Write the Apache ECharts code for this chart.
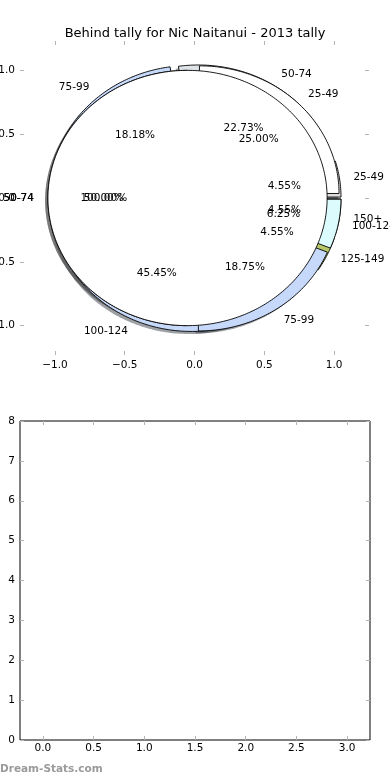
<!DOCTYPE html>
<html><head><meta charset="utf-8">
<script src="https://cdn.jsdelivr.net/npm/echarts@6/dist/echarts.min.js"></script>
<style>html,body{margin:0;padding:0;background:#fff}#c{width:390px;height:780px}</style>
</head><body><div id="c"></div>
<script>
// ---- data ----
const chartTitle = 'Behind tally for Nic Naitanui - 2013 tally';
const pieALabels = ['25-49', '50-74', '75-99', '100-124', '125-149', '150+'];
const pieAValues = [1, 5, 4, 10, 1, 1];
const pieBLabels = ['25-49', '50-74', '75-99', '100-124'];
const pieBValues = [4, 8, 3, 1];
const pieCLabels = ['50-74'];
const pieCValues = [1];
const pieTicks = [-1, -0.5, 0, 0.5, 1];
const barCategories = [0, 1, 2, 3];
const barValues = [0, 0, 0, 0];
const barXTicks = [0, 0.5, 1, 1.5, 2, 2.5, 3];
const barYTicks = [0, 1, 2, 3, 4, 5, 6, 7, 8];
const watermark = 'Dream-Stats.com';

// ---- style ----
const pieAColors = ['#dcdcdc', '#dfe3ea', '#c6d9fa', '#c6d9fa', '#b7c86b', '#c6d9fa'];
const pieBColors = ['#ffffff', '#ffffff', '#c6d9fa', '#dcfbfc'];
const pieCColors = ['#ffffff'];
const EXPLODE = 0.05, RADIUS = 1, LABEL_D = 1.1, PCT_D = 0.6;
const FONT = 'DejaVu Sans';

function buildPie(labels, values, colors) {
  const total = values.reduce((a, b) => a + b, 0);
  let cum = 0;
  return values.map((v, i) => {
    const t1 = 360 * cum / total;
    cum += v;
    const t2 = 360 * cum / total;
    const tm = (t1 + t2) / 2 * Math.PI / 180;
    const ox = EXPLODE * Math.cos(tm), oy = EXPLODE * Math.sin(tm);
    const lx = ox + LABEL_D * RADIUS * Math.cos(tm), ly = oy + LABEL_D * RADIUS * Math.sin(tm);
    return {
      t1, t2, ox, oy, color: colors[i], full: Math.abs(t2 - t1 - 360) < 1e-9,
      label: labels[i], lx, ly, align: lx > 0 ? 'left' : 'right',
      pct: (100 * v / total).toFixed(2) + '%',
      px: ox + PCT_D * RADIUS * Math.cos(tm), py: oy + PCT_D * RADIUS * Math.sin(tm)
    };
  });
}
const wedges = [].concat(
  buildPie(pieALabels, pieAValues, pieAColors),
  buildPie(pieBLabels, pieBValues, pieBColors),
  buildPie(pieCLabels, pieCValues, pieCColors)
);

function wedgePoints(api, w, dx, dy) {
  const pts = [];
  const cx = w.ox + dx, cy = w.oy + dy;
  if (!w.full) pts.push(api.coord([cx, cy]));
  const n = Math.max(2, Math.ceil((w.t2 - w.t1) / 1));
  for (let k = 0; k <= n; k++) {
    const a = (w.t1 + (w.t2 - w.t1) * k / n) * Math.PI / 180;
    pts.push(api.coord([cx + RADIUS * Math.cos(a), cy + RADIUS * Math.sin(a)]));
  }
  return pts;
}
function shadowColor(hex) {
  const r = parseInt(hex.slice(1, 3), 16), g = parseInt(hex.slice(3, 5), 16), b = parseInt(hex.slice(5, 7), 16);
  return 'rgb(' + Math.round(r * 0.3) + ',' + Math.round(g * 0.3) + ',' + Math.round(b * 0.3) + ')';
}
const fmtMinus = v => (v < 0 ? '\u2212' : '') + Math.abs(v).toFixed(1);
const tickStyle = { show: true, inside: true, length: 4, lineStyle: { color: '#b4b4b4', width: 1 } };
const noLine = { show: false, onZero: false };

const chart = echarts.init(document.getElementById('c'), null, { renderer: 'canvas' });
chart.setOption({
  animation: false,
  backgroundColor: '#fff',
  title: { text: chartTitle, left: 'center', top: 22, textStyle: { fontFamily: FONT, fontSize: 13, fontWeight: 'normal', color: '#000' } },
  graphic: [{ type: 'text', left: 0, top: 764, style: { text: watermark, fill: '#9a9a9a', font: 'bold 10.5px "DejaVu Sans"' } }],
  grid: [
    { left: 20, top: 41, width: 349, height: 314, show: false, containLabel: false, outerBoundsMode: 'none' },
    { left: 20, top: 421, width: 350, height: 319, show: true, borderColor: '#000', borderWidth: 1, backgroundColor: 'transparent', containLabel: false, outerBoundsMode: 'none' }
  ],
  xAxis: [
    { gridIndex: 0, type: 'value', min: -1.25, max: 1.25, position: 'bottom', axisLine: noLine, splitLine: { show: false },
      axisTick: Object.assign({ customValues: pieTicks }, tickStyle),
      axisLabel: { customValues: pieTicks, formatter: fmtMinus, margin: 5, color: '#000', fontSize: 10.5, fontFamily: FONT } },
    { gridIndex: 0, type: 'value', min: -1.25, max: 1.25, position: 'top', axisLine: noLine, splitLine: { show: false },
      axisTick: Object.assign({ customValues: pieTicks }, tickStyle), axisLabel: { show: false } },
    { gridIndex: 1, type: 'value', min: -0.225, max: 3.225, position: 'bottom', axisLine: noLine, splitLine: { show: false },
      axisTick: Object.assign({ customValues: barXTicks }, tickStyle),
      axisLabel: { customValues: barXTicks, formatter: v => v.toFixed(1), margin: 3, color: '#000', fontSize: 10.5, fontFamily: FONT } },
    { gridIndex: 1, type: 'value', min: -0.225, max: 3.225, position: 'top', axisLine: noLine, splitLine: { show: false },
      axisTick: Object.assign({ customValues: barXTicks }, tickStyle), axisLabel: { show: false } }
  ],
  yAxis: [
    { gridIndex: 0, type: 'value', min: -1.23, max: 1.23, position: 'left', axisLine: noLine, splitLine: { show: false },
      axisTick: Object.assign({ customValues: pieTicks }, tickStyle),
      axisLabel: { customValues: pieTicks, formatter: fmtMinus, margin: 5, color: '#000', fontSize: 10.5, fontFamily: FONT } },
    { gridIndex: 0, type: 'value', min: -1.23, max: 1.23, position: 'right', axisLine: noLine, splitLine: { show: false },
      axisTick: Object.assign({ customValues: pieTicks }, tickStyle), axisLabel: { show: false } },
    { gridIndex: 1, type: 'value', min: 0, max: 8, position: 'left', axisLine: noLine, splitLine: { show: false },
      axisTick: Object.assign({ customValues: barYTicks }, tickStyle),
      axisLabel: { customValues: barYTicks, margin: 5, color: '#000', fontSize: 10.5, fontFamily: FONT } },
    { gridIndex: 1, type: 'value', min: 0, max: 8, position: 'right', axisLine: noLine, splitLine: { show: false },
      axisTick: Object.assign({ customValues: barYTicks }, tickStyle), axisLabel: { show: false } }
  ],
  series: [
    { type: 'custom', name: 'shadow', xAxisIndex: 0, yAxisIndex: 0, clip: false, z: 1, silent: true,
      data: wedges.map((w, i) => [i]),
      renderItem: (params, api) => {
        const w = wedges[params.dataIndex];
        return { type: 'polygon', shape: { points: wedgePoints(api, w, -0.02, -0.02) },
          style: { fill: shadowColor(w.color), stroke: null, opacity: 0.5 } };
      } },
    { type: 'custom', name: 'wedges', xAxisIndex: 0, yAxisIndex: 0, clip: false, z: 2, silent: true,
      data: wedges.map((w, i) => [i]),
      renderItem: (params, api) => {
        const w = wedges[params.dataIndex];
        return { type: 'polygon', shape: { points: wedgePoints(api, w, 0, 0) },
          style: { fill: w.color, stroke: '#000', lineWidth: 0.9 } };
      } },
    { type: 'custom', name: 'texts', xAxisIndex: 0, yAxisIndex: 0, clip: false, z: 3, silent: true,
      data: wedges.map((w, i) => [i]),
      renderItem: (params, api) => {
        const w = wedges[params.dataIndex];
        const l = api.coord([w.lx, w.ly]), p = api.coord([w.px, w.py]);
        return { type: 'group', children: [
          { type: 'text', x: l[0], y: l[1], style: { text: w.label, fill: '#000', font: '10.5px "DejaVu Sans"', align: w.align, verticalAlign: 'middle' } },
          { type: 'text', x: p[0], y: p[1], style: { text: w.pct, fill: '#000', font: '10.5px "DejaVu Sans"', align: 'center', verticalAlign: 'middle' } }
        ] };
      } },
    { type: 'bar', name: 'tally', xAxisIndex: 2, yAxisIndex: 2, barWidth: 20,
      data: barCategories.map((c, i) => [c, barValues[i]]), itemStyle: { color: '#c6d9fa' } }
  ]
});
</script></body></html>
